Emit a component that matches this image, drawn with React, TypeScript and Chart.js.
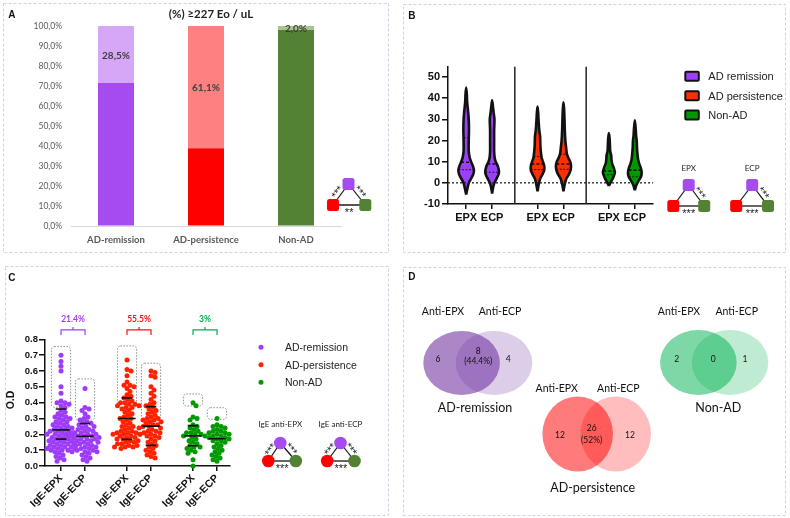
import React, { useEffect, useRef } from 'react';
import { Chart, registerables } from 'chart.js';

Chart.register(...registerables);

const ARIAL = '"Liberation Sans", Arial, sans-serif';
const CALIBRI = 'Lato, "Open Sans", sans-serif';

// ---------------- Panel A data ----------------
const eoCategories = ['AD-remission', 'AD-persistence', 'Non-AD'];
const eoBelowPct = [71.5, 38.9, 98.0];
const eoAbovePct = [28.5, 61.1, 2.0];
const eoAboveLabels = ['28,5%', '61,1%', '2,0%'];
const eoTitle = '(%) ≥227 Eo / uL';

// ---------------- Panel B data ----------------
const violinGroups = ['AD remission', 'AD persistence', 'Non-AD'];
const violinLabels = ['EPX', 'ECP', 'EPX', 'ECP', 'EPX', 'ECP'];
const violinGroupIndex = [0, 0, 1, 1, 2, 2];
// [value, relative density]
const epxRemissionDensity = [[-5.5, 0], [-3, 0.14], [0, 0.34], [2, 0.63], [4, 0.91], [6, 1.0], [8, 0.86], [10, 0.63], [12, 0.45], [15, 0.33], [20, 0.33], [25, 0.36], [30, 0.33], [34, 0.24], [38, 0.13], [42, 0.08], [45, 0]];
const ecpRemissionDensity = [[-5, 0], [-2, 0.14], [0, 0.3], [2, 0.57], [4, 0.83], [5.5, 0.88], [8, 0.72], [10, 0.46], [12, 0.32], [15, 0.26], [20, 0.26], [25, 0.26], [30, 0.3], [33, 0.2], [36, 0.11], [39, 0]];
const epxPersistenceDensity = [[-4, 0], [-1, 0.14], [2, 0.34], [4, 0.63], [6, 0.86], [8, 0.86], [10, 0.69], [12, 0.52], [15, 0.42], [18, 0.36], [22, 0.33], [25, 0.22], [30, 0.13], [33, 0.08], [36, 0]];
const ecpPersistenceDensity = [[-4, 0], [-1, 0.14], [2, 0.37], [4, 0.69], [6, 0.91], [8, 0.97], [10, 0.86], [12, 0.6], [14, 0.42], [17, 0.33], [20, 0.24], [25, 0.17], [30, 0.13], [35, 0.08], [38, 0]];
const epxNonAdDensity = [[-1.5, 0], [0, 0.2], [2, 0.49], [4, 0.71], [5, 0.77], [7, 0.63], [9, 0.42], [11, 0.33], [13, 0.3], [15, 0.17], [18, 0.13], [21, 0.09], [23.5, 0]];
const ecpNonAdDensity = [[-3.5, 0], [-1, 0.2], [1, 0.49], [3, 0.8], [5, 0.88], [7, 0.77], [9, 0.57], [11, 0.42], [14, 0.33], [17, 0.27], [20, 0.24], [22, 0.17], [25, 0.12], [29.5, 0]];
const violinDensities = [epxRemissionDensity, ecpRemissionDensity, epxPersistenceDensity, ecpPersistenceDensity, epxNonAdDensity, ecpNonAdDensity];
const violinMedians = [9.7, 8.9, 8.9, 8.9, 5.6, 6.0];
const violinLowerQuartiles = [6.2, 5.0, 6.3, 6.4, 3.8, 2.9];
const violinUpperQuartiles = [21.3, null, 12.5, 13.5, null, null];
const violinYTicks = [-10, 0, 10, 20, 30, 40, 50];

// ---------------- Panel C data ----------------
const odColumnLabels = ['IgE-EPX', 'IgE-ECP', 'IgE-EPX', 'IgE-ECP', 'IgE-EPX', 'IgE-ECP'];
const odColumnGroup = [0, 0, 1, 1, 2, 2];
const odRemissionEpx = [0.70, 0.66, 0.63, 0.60, 0.50, 0.46, 0.41, 0.40, 0.40, 0.39, 0.38, 0.37, 0.35, 0.34, 0.33, 0.32, 0.31, 0.31, 0.30, 0.30, 0.29, 0.28, 0.28, 0.27, 0.26, 0.26, 0.25, 0.25, 0.24, 0.24, 0.23, 0.23, 0.22, 0.22, 0.22, 0.21, 0.21, 0.20, 0.20, 0.20, 0.19, 0.19, 0.18, 0.18, 0.18, 0.17, 0.17, 0.16, 0.16, 0.16, 0.15, 0.15, 0.14, 0.14, 0.14, 0.13, 0.13, 0.12, 0.12, 0.12, 0.11, 0.11, 0.11, 0.10, 0.10, 0.10, 0.09, 0.09, 0.08, 0.07, 0.06, 0.05, 0.04, 0.03];
const odRemissionEcp = [0.49, 0.37, 0.36, 0.35, 0.33, 0.31, 0.30, 0.29, 0.28, 0.27, 0.27, 0.26, 0.25, 0.25, 0.24, 0.23, 0.23, 0.22, 0.22, 0.21, 0.21, 0.20, 0.20, 0.20, 0.19, 0.19, 0.19, 0.18, 0.18, 0.18, 0.17, 0.17, 0.17, 0.16, 0.16, 0.15, 0.15, 0.15, 0.14, 0.14, 0.13, 0.13, 0.12, 0.12, 0.11, 0.11, 0.10, 0.10, 0.09, 0.09, 0.08, 0.07, 0.06, 0.05, 0.04, 0.03];
const odPersistenceEpx = [0.67, 0.61, 0.60, 0.57, 0.53, 0.51, 0.51, 0.50, 0.49, 0.47, 0.45, 0.44, 0.43, 0.42, 0.41, 0.40, 0.40, 0.39, 0.39, 0.38, 0.38, 0.37, 0.37, 0.36, 0.35, 0.34, 0.33, 0.32, 0.31, 0.30, 0.30, 0.29, 0.28, 0.27, 0.26, 0.25, 0.25, 0.24, 0.23, 0.22, 0.22, 0.21, 0.21, 0.21, 0.20, 0.20, 0.20, 0.19, 0.19, 0.18, 0.18, 0.17, 0.17, 0.16, 0.16, 0.15, 0.15, 0.14, 0.14, 0.13, 0.13, 0.12, 0.12, 0.12, 0.11];
const odPersistenceEcp = [0.60, 0.59, 0.57, 0.56, 0.50, 0.48, 0.46, 0.44, 0.42, 0.40, 0.39, 0.38, 0.37, 0.36, 0.35, 0.34, 0.33, 0.32, 0.31, 0.30, 0.30, 0.29, 0.29, 0.28, 0.28, 0.27, 0.26, 0.26, 0.25, 0.25, 0.24, 0.24, 0.23, 0.22, 0.22, 0.21, 0.21, 0.20, 0.20, 0.19, 0.19, 0.18, 0.17, 0.16, 0.15, 0.14, 0.13, 0.12, 0.11, 0.10, 0.09, 0.08, 0.07, 0.06, 0.05];
const odNonAdEpx = [0.40, 0.38, 0.31, 0.30, 0.29, 0.26, 0.25, 0.24, 0.23, 0.22, 0.21, 0.21, 0.20, 0.20, 0.19, 0.19, 0.18, 0.17, 0.16, 0.15, 0.14, 0.13, 0.12, 0.12, 0.11, 0.10, 0.09, 0.08, 0.04, 0.00];
const odNonAdEcp = [0.30, 0.26, 0.25, 0.25, 0.24, 0.23, 0.22, 0.22, 0.21, 0.21, 0.20, 0.20, 0.19, 0.19, 0.18, 0.18, 0.17, 0.17, 0.16, 0.16, 0.15, 0.14, 0.13, 0.12, 0.11, 0.10, 0.09, 0.08, 0.07, 0.06, 0.05, 0.04, 0.03];
const odColumns = [odRemissionEpx, odRemissionEcp, odPersistenceEpx, odPersistenceEcp, odNonAdEpx, odNonAdEcp];
const odUpper = [0.36, 0.268, 0.43, 0.375, 0.255, null];
const odMean = [0.228, 0.188, 0.30, 0.252, 0.19, 0.172];
const odLower = [0.17, null, 0.168, 0.13, 0.128, null];
const odPositiveLow = [0.371, 0.29, 0.371, 0.295, 0.379, 0.295];
const odPositiveHigh = [0.754, 0.55, 0.758, 0.649, 0.455, 0.368];
const odBothPositivePct = ['21.4%', '55.5%', '3%'];
const odLegend = ['AD-remission', 'AD-persistence', 'Non-AD'];
const odYTicks = [0, 0.1, 0.2, 0.3, 0.4, 0.5, 0.6, 0.7, 0.8];

// ---------------- Panel D data ----------------
const vennGroups = ['AD-remission', 'AD-persistence', 'Non-AD'];
const vennSetLabels = ['Anti-EPX', 'Anti-ECP'];
const vennOnlyEpx = [6, 12, 2];
const vennBoth = [8, 26, 0];
const vennOnlyEcp = [4, 12, 1];
const vennBothPct = ['(44.4%)', '(52%)', ''];

// ---------------- styles / layout ----------------
const groupColorsA = { dark: ['#a64bef', '#ff0000', '#548235'], light: ['#d6a7f6', '#ff8080', '#a9c48f'] };
const violinColors = ['#9b40f8', '#ff3000', '#009a00'];
const odColors = ['#9d3cfa', '#ff2200', '#009a00'];
const odTextColors = ['#a040f0', '#ff1010', '#00b050'];
const violinX = [0, 1, 2.75, 3.75, 5.5, 6.5];
const violinSeparators = [1.875, 4.625];
const VIOLIN_HALF = 0.3;
const odX = [0, 1, 2.75, 3.75, 5.5, 6.5];
const PX_PER_X = 24;
const PX_PER_Y = 158.3;

function interpDensity(profile: number[][], y: number): number {
  for (let i = 0; i < profile.length - 1; i++) {
    const [y0, d0] = profile[i];
    const [y1, d1] = profile[i + 1];
    if (y >= y0 && y <= y1) return d0 + ((d1 - d0) * (y - y0)) / (y1 - y0);
  }
  return 0;
}

function swarmOffsets(values: number[]): number[] {
  const D = 4.2;
  const idx = values.map((_, i) => i).sort((a, b) => values[b] - values[a]);
  const placed: number[][] = [];
  const out = values.map(() => 0);
  idx.forEach((i) => {
    const py = values[i] * PX_PER_Y;
    for (let k = 0; k < 400; k++) {
      const step = Math.ceil(k / 2) * 0.5 * (k % 2 === 1 ? 1 : -1);
      const ok = placed.every(([qx, qy]) => (qx - step) ** 2 + (qy - py) ** 2 >= D * D);
      if (ok) {
        placed.push([step, py]);
        out[i] = step / PX_PER_X;
        break;
      }
    }
  });
  return out;
}

const baseOpts = {
  animation: false,
  responsive: false,
  devicePixelRatio: 1,
  events: [],
};

// ---------------- Panel A ----------------
const eoLabelPlugin = {
  id: 'eoLabels',
  afterDatasetsDraw(chart: any) {
    const ctx = chart.ctx;
    const meta = chart.getDatasetMeta(1);
    ctx.save();
    ctx.font = `bold 10px ${CALIBRI}`;
    ctx.fillStyle = '#404040';
    ctx.textAlign = 'center';
    ctx.textBaseline = 'middle';
    meta.data.forEach((bar: any, i: number) => {
      const p = bar.getProps(['x', 'y', 'base'], true);
      ctx.fillText(eoAboveLabels[i], p.x, (p.y + p.base) / 2 + 1);
    });
    ctx.restore();
  },
};

function makeA() {
  return {
    type: 'bar',
    data: {
      labels: eoCategories,
      datasets: [
        { label: '<227', data: eoBelowPct, backgroundColor: groupColorsA.dark, barPercentage: 0.4, categoryPercentage: 1 },
        { label: '≥227', data: eoAbovePct, backgroundColor: groupColorsA.light, barPercentage: 0.4, categoryPercentage: 1 },
      ],
    },
    options: {
      ...baseOpts,
      layout: { padding: { left: 11, top: 26, right: 49, bottom: 0 } },
      plugins: { legend: { display: false }, tooltip: { enabled: false } },
      scales: {
        x: {
          stacked: true,
          grid: { display: true, drawOnChartArea: false, drawTicks: false },
          border: { display: true, color: '#d9d9d9', width: 1 },
          ticks: { font: { family: CALIBRI, size: 9.5, weight: 'bold' }, color: '#595959', padding: 8 },
          afterFit: (s: any) => { s.height = 29; },
        },
        y: {
          stacked: true,
          min: 0,
          max: 100,
          grid: { display: true, drawOnChartArea: false, drawTicks: false },
          border: { display: false },
          ticks: {
            stepSize: 10,
            callback: (v: number) => `${v.toFixed(1).replace('.', ',')}%`,
            font: { family: CALIBRI, size: 8.5 },
            color: '#595959',
            padding: 9,
          },
          afterFit: (s: any) => { s.width = 60; },
        },
      },
    },
    plugins: [eoLabelPlugin],
  };
}

// ---------------- Panel B ----------------
function makeB() {
  const datasets: any[] = [];
  violinDensities.forEach((prof, i) => {
    const c = violinX[i];
    const right = prof.map(([y, d]) => ({ x: c + d * VIOLIN_HALF, y }));
    const left = prof.slice(0, -1).reverse().map(([y, d]) => ({ x: c - d * VIOLIN_HALF, y }));
    datasets.push({
      type: 'line',
      data: [...right, ...left],
      borderColor: '#111',
      borderWidth: 2.6,
      borderJoinStyle: 'round',
      backgroundColor: violinColors[violinGroupIndex[i]],
      fill: 'shape',
      tension: 0.3,
      pointRadius: 0,
      order: 3,
      clip: false,
    });
  });
  const hline = (i: number, v: number | null, dash: number[], w: number) => {
    if (v == null) return;
    const hw = interpDensity(violinDensities[i], v) * VIOLIN_HALF;
    datasets.push({
      type: 'line',
      data: [{ x: violinX[i] - hw, y: v }, { x: violinX[i] + hw, y: v }],
      borderColor: '#111',
      borderWidth: w,
      borderDash: dash,
      pointRadius: 0,
      fill: false,
      order: 1,
    });
  };
  violinX.forEach((_, i) => {
    hline(i, violinMedians[i], [3, 2], 1.6);
    hline(i, violinLowerQuartiles[i], [2, 1.5], 0.9);
    hline(i, violinUpperQuartiles[i], [2, 1.5], 0.9);
  });
  violinSeparators.forEach((sx) => {
    datasets.push({
      type: 'line',
      data: [{ x: sx, y: -10 }, { x: sx, y: 55 }],
      borderColor: '#222',
      borderWidth: 1.5,
      pointRadius: 0,
      fill: false,
      order: 2,
    });
  });
  datasets.push({
    type: 'line',
    data: [{ x: -0.7, y: 0 }, { x: 7.2, y: 0 }],
    borderColor: '#222',
    borderWidth: 1.3,
    borderDash: [2, 2],
    pointRadius: 0,
    fill: false,
    order: 0,
  });
  return {
    type: 'line',
    data: { datasets },
    options: {
      ...baseOpts,
      layout: { padding: { left: 5, top: 62.4, right: 133, bottom: 0 } },
      plugins: { legend: { display: false }, tooltip: { enabled: false } },
      scales: {
        x: {
          type: 'linear',
          min: -0.7,
          max: 7.2,
          afterBuildTicks: (s: any) => { s.ticks = violinX.map((v) => ({ value: v })); },
          ticks: {
            callback: (_v: any, i: number) => violinLabels[i],
            autoSkip: false,
            maxRotation: 0,
            font: { family: ARIAL, size: 11, weight: 'bold' },
            color: '#111',
            padding: 2,
          },
          grid: { display: true, drawOnChartArea: false, drawTicks: true, tickLength: 5, color: '#111', lineWidth: 1.5 },
          border: { display: true, color: '#111', width: 1.5 },
          afterFit: (s: any) => { s.height = 49; },
        },
        y: {
          min: -10,
          max: 55,
          afterBuildTicks: (s: any) => { s.ticks = violinYTicks.map((v) => ({ value: v })); },
          ticks: { font: { family: ARIAL, size: 11, weight: 'bold' }, color: '#111', padding: 2 },
          grid: { display: true, drawOnChartArea: false, drawTicks: true, tickLength: 6, color: '#111', lineWidth: 1.5 },
          border: { display: true, color: '#111', width: 1.5 },
          afterFit: (s: any) => { s.width = 40; },
        },
      },
    },
  };
}

// ---------------- Panel C ----------------
const odDecorPlugin = {
  id: 'odDecor',
  beforeDatasetsDraw(chart: any) {
    const { ctx, scales } = chart;
    const x = scales.x;
    const y = scales.y;
    ctx.save();
    ctx.strokeStyle = '#8c8c8c';
    ctx.lineWidth = 1;
    ctx.setLineDash([1.5, 1.5]);
    odX.forEach((cx, i) => {
      const l = x.getPixelForValue(cx - 0.4);
      const r = x.getPixelForValue(cx + 0.4);
      const t = y.getPixelForValue(odPositiveHigh[i]);
      const b = y.getPixelForValue(odPositiveLow[i]);
      ctx.beginPath();
      ctx.roundRect(l, t, r - l, b - t, 3);
      ctx.stroke();
    });
    ctx.restore();
  },
  afterDatasetsDraw(chart: any) {
    const { ctx, scales } = chart;
    ctx.save();
    ctx.font = `bold 8.5px ${CALIBRI}`;
    ctx.textAlign = 'center';
    ctx.textBaseline = 'middle';
    odBothPositivePct.forEach((t, g) => {
      const xm = (odX[2 * g] + odX[2 * g + 1]) / 2;
      ctx.fillStyle = odTextColors[g];
      ctx.fillText(t, scales.x.getPixelForValue(xm), scales.y.getPixelForValue(0.928));
    });
    ctx.restore();
  },
};

function makeC() {
  const datasets: any[] = [];
  odColumns.forEach((vals, i) => {
    const offs = swarmOffsets(vals);
    datasets.push({
      type: 'scatter',
      data: vals.map((v, j) => ({ x: odX[i] + offs[j], y: v })),
      backgroundColor: odColors[odColumnGroup[i]],
      borderWidth: 0,
      pointRadius: 2.5,
      order: 2,
      clip: false,
    });
  });
  const stat = (i: number, v: number | null, hw: number) => {
    if (v == null) return;
    datasets.push({
      type: 'line',
      data: [{ x: odX[i] - hw, y: v }, { x: odX[i] + hw, y: v }],
      borderColor: '#111',
      borderWidth: 1.6,
      pointRadius: 0,
      fill: false,
      order: 1,
    });
  };
  odX.forEach((_, i) => {
    stat(i, odMean[i], 0.36);
    stat(i, odUpper[i], 0.22);
    stat(i, odLower[i], 0.22);
  });
  [0, 1, 2].forEach((g) => {
    const x1 = odX[2 * g];
    const x2 = odX[2 * g + 1];
    const xm = (x1 + x2) / 2;
    datasets.push({
      type: 'line',
      data: [
        { x: x1, y: 0.827 }, { x: x1, y: 0.859 }, { x: xm, y: 0.859 }, { x: xm, y: 0.878 },
        { x: xm, y: 0.859 }, { x: x2, y: 0.859 }, { x: x2, y: 0.827 },
      ],
      borderColor: odTextColors[g],
      borderWidth: 1.2,
      pointRadius: 0,
      fill: false,
      tension: 0,
      order: 0,
      clip: false,
    });
  });
  return {
    type: 'scatter',
    data: { datasets },
    options: {
      ...baseOpts,
      layout: { padding: { left: 0, top: 73.3, right: 159, bottom: 0 } },
      plugins: { legend: { display: false }, tooltip: { enabled: false } },
      scales: {
        x: {
          type: 'linear',
          min: -0.667,
          max: 7.04,
          afterBuildTicks: (s: any) => { s.ticks = odX.map((v) => ({ value: v })); },
          ticks: {
            callback: (_v: any, i: number) => odColumnLabels[i],
            autoSkip: false,
            minRotation: 45,
            maxRotation: 45,
            font: { family: ARIAL, size: 10.5, weight: 'bold' },
            color: '#111',
            padding: 1,
          },
          grid: { display: true, drawOnChartArea: false, drawTicks: true, tickLength: 5, color: '#111', lineWidth: 1.5 },
          border: { display: true, color: '#111', width: 1.5 },
          afterFit: (s: any) => { s.height = 50; },
        },
        y: {
          min: 0,
          max: 0.8,
          afterBuildTicks: (s: any) => { s.ticks = odYTicks.map((v) => ({ value: v })); },
          ticks: {
            callback: (v: number) => v.toFixed(1),
            font: { family: ARIAL, size: 9.5, weight: 'bold' },
            color: '#111',
            padding: 1,
          },
          grid: { display: true, drawOnChartArea: false, drawTicks: true, tickLength: 6, color: '#111', lineWidth: 1.5 },
          border: { display: true, color: '#111', width: 1.5 },
          afterFit: (s: any) => { s.width = 40; },
        },
      },
    },
    plugins: [odDecorPlugin],
  };
}

// ---------------- Panel D ----------------
const D_LEFT = 403;
const D_TOP = 267;
const vennLayout = [
  { cx: 477.8, cy: 363, d: 16.2, rx: 38.3, ry: 32, rgb: '112,48,160', aL: 0.58, aR: 0.245,
    setX: [443, 500], setY: 311.7, countX: [438, 478.3, 508.3], countY: 359, bothY: [351.7, 361.7], nameX: 475, nameY: 408.3 },
  { cx: 596.7, cy: 434, d: 19, rx: 35.3, ry: 37.5, rgb: '255,0,0', aL: 0.52, aR: 0.26,
    setX: [556.7, 618.3], setY: 388.3, countX: [560, 591.7, 630], countY: 435.7, bothY: [428.3, 440], nameX: 592.7, nameY: 487.7 },
  { cx: 714.2, cy: 362.5, d: 15.8, rx: 38.3, ry: 32.5, rgb: '0,176,80', aL: 0.51, aR: 0.25,
    setX: [679, 736.7], setY: 311.7, countX: [676.7, 713.3, 745], countY: 359.3, bothY: [359.3, 369], nameX: 718.3, nameY: 408.3 },
];

const vennPlugin = {
  id: 'venn',
  afterDraw(chart: any) {
    const { ctx, scales } = chart;
    const X = (v: number) => scales.x.getPixelForValue(v - D_LEFT);
    const Y = (v: number) => scales.y.getPixelForValue(v - D_TOP);
    ctx.save();
    vennGroups.forEach((name, g) => {
      const L = vennLayout[g];
      const rxp = Math.abs(X(L.cx + L.rx) - X(L.cx));
      const ryp = Math.abs(Y(L.cy + L.ry) - Y(L.cy));
      ctx.fillStyle = `rgba(${L.rgb},${L.aL})`;
      ctx.beginPath();
      ctx.ellipse(X(L.cx - L.d), Y(L.cy), rxp, ryp, 0, 0, Math.PI * 2);
      ctx.fill();
      ctx.fillStyle = `rgba(${L.rgb},${L.aR})`;
      ctx.beginPath();
      ctx.ellipse(X(L.cx + L.d), Y(L.cy), rxp, ryp, 0, 0, Math.PI * 2);
      ctx.fill();
      ctx.fillStyle = '#111';
      ctx.textAlign = 'center';
      ctx.textBaseline = 'middle';
      ctx.font = `10.5px ${CALIBRI}`;
      vennSetLabels.forEach((s, k) => ctx.fillText(s, X(L.setX[k]), Y(L.setY)));
      ctx.font = `8.5px ${CALIBRI}`;
      ctx.fillText(String(vennOnlyEpx[g]), X(L.countX[0]), Y(L.countY));
      ctx.fillText(String(vennOnlyEcp[g]), X(L.countX[2]), Y(L.countY));
      if (vennBothPct[g]) {
        ctx.fillText(String(vennBoth[g]), X(L.countX[1]), Y(L.bothY[0]));
        ctx.fillText(vennBothPct[g], X(L.countX[1]), Y(L.bothY[1]));
      } else {
        ctx.fillText(String(vennBoth[g]), X(L.countX[1]), Y(L.countY));
      }
      ctx.font = `12.5px ${CALIBRI}`;
      ctx.fillText(name, X(L.nameX), Y(L.nameY));
    });
    ctx.restore();
  },
};

function makeD() {
  return {
    type: 'scatter',
    data: { datasets: [] },
    options: {
      ...baseOpts,
      layout: { padding: 0 },
      plugins: { legend: { display: false }, tooltip: { enabled: false } },
      scales: {
        x: { display: false, min: 0, max: 383 },
        y: { display: false, min: 0, max: 249, reverse: true },
      },
    },
    plugins: [vennPlugin],
  };
}

// ---------------- React helpers ----------------
function ChartBox({ left, top, width, height, make }: any) {
  const ref = useRef<HTMLCanvasElement>(null);
  useEffect(() => {
    const chart = new Chart(ref.current as any, make());
    return () => chart.destroy();
  }, []);
  return (
    <canvas
      ref={ref}
      width={width}
      height={height}
      style={{ position: 'absolute', left, top, width, height }}
    />
  );
}

function Stars({ a, b, text, side, off, fs }: any) {
  const dx = b[0] - a[0];
  const dy = b[1] - a[1];
  const ang = (Math.atan2(dy, dx) * 180) / Math.PI;
  const mx = (a[0] + b[0]) / 2;
  const my = (a[1] + b[1]) / 2;
  return (
    <text
      transform={`translate(${mx},${my}) rotate(${ang})`}
      x={0}
      y={side * off + 0.57 * fs}
      textAnchor="middle"
      fontSize={fs}
      fontFamily={ARIAL}
      fill="#222"
    >
      {text}
    </text>
  );
}

function SigIcon({ p, r, g, shape, size, colors, stars, title, titleY, fs }: any) {
  const node = (c: number[], col: string, key: string) =>
    shape === 'square' ? (
      <rect key={key} x={c[0] - size / 2} y={c[1] - size / 2} width={size} height={size} rx={2.5} fill={col} />
    ) : (
      <circle key={key} cx={c[0]} cy={c[1]} r={size / 2} fill={col} />
    );
  return (
    <g>
      {title ? (
        <text x={p[0]} y={titleY} textAnchor="middle" fontSize={8} fontFamily={CALIBRI} fill="#222">{title}</text>
      ) : null}
      <line x1={r[0]} y1={r[1]} x2={p[0]} y2={p[1]} stroke="#111" strokeWidth={1.2} />
      <line x1={p[0]} y1={p[1]} x2={g[0]} y2={g[1]} stroke="#111" strokeWidth={1.2} />
      <line x1={r[0]} y1={r[1]} x2={g[0]} y2={g[1]} stroke="#555" strokeWidth={1.8} />
      {node(r, colors[1], 'r')}
      {node(g, colors[2], 'g')}
      {node(p, colors[0], 'p')}
      {stars[0] ? <Stars a={r} b={p} text={stars[0]} side={-1} off={size / 2 + 0.5} fs={fs} /> : null}
      {stars[1] ? <Stars a={p} b={g} text={stars[1]} side={-1} off={size / 2 + 0.5} fs={fs} /> : null}
      {stars[2] ? <Stars a={r} b={g} text={stars[2]} side={1} off={4.5} fs={fs} /> : null}
    </g>
  );
}

function Overlay() {
  const box = '#c8d2e8';
  return (
    <svg width={790} height={518} style={{ position: 'absolute', left: 0, top: 0, pointerEvents: 'none' }}>
      <rect x={3.5} y={3.5} width={385} height={249} fill="none" stroke={box} strokeDasharray="3,2" />
      <rect x={403.5} y={4.5} width={382} height={248} fill="none" stroke={box} strokeDasharray="3,2" />
      <rect x={5.5} y={266.5} width={383} height={249} fill="none" stroke={box} strokeDasharray="3,2" />
      <rect x={403.5} y={267.5} width={382} height={248} fill="none" stroke={box} strokeDasharray="3,2" />

      <text x={8.3} y={17.5} fontSize={10} fontWeight="bold" fontFamily={ARIAL} fill="#111">A</text>
      <text x={408.3} y={19} fontSize={10} fontWeight="bold" fontFamily={ARIAL} fill="#111">B</text>
      <text x={8.3} y={280.7} fontSize={10} fontWeight="bold" fontFamily={ARIAL} fill="#111">C</text>
      <text x={408.3} y={280} fontSize={10} fontWeight="bold" fontFamily={ARIAL} fill="#111">D</text>

      {/* Panel A title and significance */}
      <text x={211} y={18} textAnchor="middle" fontSize={11.5} fontWeight="bold" fontFamily={CALIBRI} fill="#222">{eoTitle}</text>
      <SigIcon p={[348.5, 184]} r={[333, 205]} g={[365.3, 205]} shape="square" size={12}
        colors={groupColorsA.dark} stars={['***', '***', '**']} fs={11} />

      {/* Panel B legend and significance */}
      {violinGroups.map((name, i) => (
        <g key={name}>
          <rect x={685.3} y={[71.8, 91.2, 110.5][i]} width={13.5} height={9} rx={1} fill={violinColors[i]} stroke="#111" strokeWidth={2} />
          <text x={708.3} y={[76.3, 95.7, 115][i] + 4} fontSize={11} fontFamily={ARIAL} fill="#222">{name}</text>
        </g>
      ))}
      <SigIcon p={[688.7, 185]} r={[673.3, 206]} g={[704.2, 206]} shape="square" size={12}
        colors={['#a64bef', '#ff0000', '#548235']} stars={['', '***', '***']} title="EPX" titleY={171} fs={11} />
      <SigIcon p={[752.2, 185]} r={[736.2, 206]} g={[768, 206]} shape="square" size={12}
        colors={['#a64bef', '#ff0000', '#548235']} stars={['', '***', '***']} title="ECP" titleY={171} fs={11} />

      {/* Panel C axis title, legend, significance */}
      <text transform="translate(14,400) rotate(-90)" textAnchor="middle" fontSize={10.5} fontWeight="bold" fontFamily={ARIAL} fill="#111">O.D</text>
      {odLegend.map((name, i) => (
        <g key={name}>
          <circle cx={261} cy={[347.3, 364.7, 382.3][i]} r={2.5} fill={odColors[i]} />
          <text x={285} y={[347.3, 364.7, 382.3][i] + 3.8} fontSize={10.5} fontFamily={ARIAL} fill="#222">{name}</text>
        </g>
      ))}
      <SigIcon p={[280.3, 443]} r={[268.3, 461]} g={[295.8, 461]} shape="circle" size={12.6}
        colors={['#a64bef', '#ff0000', '#548235']} stars={['***', '***', '***']} title="IgE anti-EPX" titleY={427} fs={11} />
      <SigIcon p={[340.5, 443]} r={[327.2, 461]} g={[354.5, 461]} shape="circle" size={12.6}
        colors={['#a64bef', '#ff0000', '#548235']} stars={['***', '***', '***']} title="IgE anti-ECP" titleY={427} fs={11} />
    </svg>
  );
}

export default function App() {
  return (
    <div style={{ position: 'absolute', left: 0, top: 0, width: 790, height: 518, background: '#fff', overflow: 'hidden' }}>
      <ChartBox left={0} top={0} width={390} height={255} make={makeA} />
      <ChartBox left={403} top={4} width={383} height={249} make={makeB} />
      <ChartBox left={5} top={266} width={384} height={250} make={makeC} />
      <ChartBox left={403} top={267} width={383} height={249} make={makeD} />
      <Overlay />
    </div>
  );
}
